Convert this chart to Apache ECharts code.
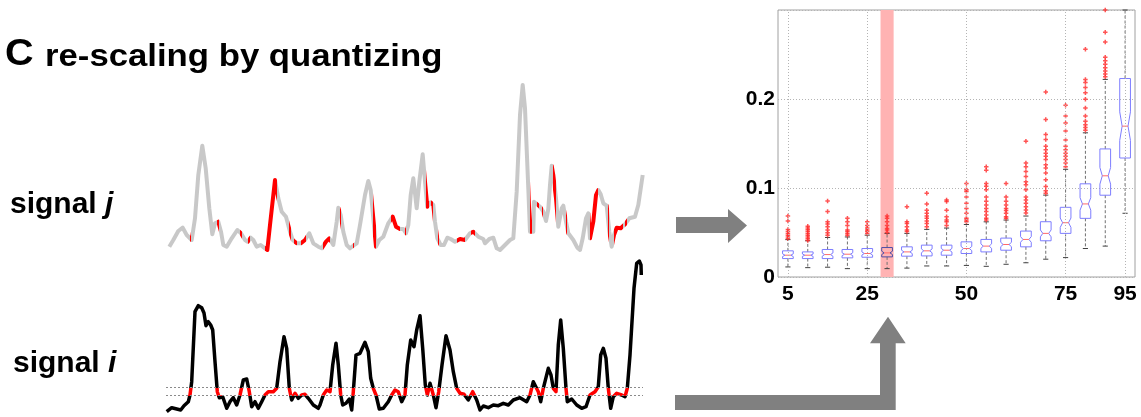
<!DOCTYPE html>
<html><head><meta charset="utf-8">
<script src="https://cdn.jsdelivr.net/npm/echarts@6/dist/echarts.min.js"></script>
<style>html,body{margin:0;padding:0;background:#fff}#c{width:1141px;height:417px}</style>
</head><body><div id="c"></div>
<script>
// ---- signal traces: [time, value] ----
const SIGNAL_J = [[3.3,13.3],[7.3,20],[12.3,29],[16.7,32.3],[20.7,25],[25.7,20],[29,41.7],[32.3,85],[36.3,114.3],[39.7,91.7],[43.3,51.7],[46.3,25.7],[49,36.7],[52.3,38.3],[55,28.3],[57.3,15],[60.7,13.3],[65.7,21.7],[71.3,30],[75,26.7],[79,20],[81.7,18.3],[84.7,22.3],[87.3,20],[90.7,13.3],[94.7,15],[99,11.7],[101.3,10],[104,35],[109,80],[112.3,61.7],[115.7,48.3],[120,43.3],[124,28.3],[126.7,20],[130.7,16.7],[134.7,16.7],[139,20],[143.3,26.7],[147.3,16.7],[152.3,13.3],[155.7,11.7],[160,18.3],[163.3,21.7],[167.3,15],[170.7,38.3],[172.3,52.3],[174.7,45],[177.3,28.3],[180.7,15],[184,11.7],[187.3,14.3],[190.7,16.7],[194,35],[199,65],[202.3,79],[204.7,70],[207.3,41.7],[210,13.3],[213.3,20],[217.3,23.3],[222.3,36.7],[226.7,43.3],[230,33.3],[234,31],[237.3,31],[240,26.7],[242.3,35],[244.7,65],[247.3,81.7],[250.7,51.7],[253.3,78.3],[256.7,105.7],[259,78.3],[261.3,53.3],[264.7,57.7],[267.3,55],[269,38.3],[271.3,21.7],[274.7,15],[278,15],[281.3,22.3],[284.7,21],[289,18.3],[294,21],[299,20],[304,26.7],[307.3,28.3],[312.3,23.3],[317.3,21],[319,16.7],[323.3,21],[327.3,22.3],[330.7,11.7],[334,10],[339,15],[344,20],[347.3,21.7],[350.7,68.3],[354,145],[356.7,175],[359,151.7],[362.3,71.7],[364,28.3],[367.3,28.3],[368,58.3],[370,59],[374,53.3],[377.3,48.3],[380,39],[382.3,51],[384,75],[385.7,94.3],[387.3,85],[390,61.7],[392.3,33.3],[395.7,51.7],[397.3,54.3],[400,38.3],[402.3,26.7],[407.3,20],[411.3,12.3],[414,10],[416.7,21.7],[420,41.7],[422.3,46.7],[424,21.7],[427.3,38.3],[430,65],[432.3,70],[434.7,65.7],[437.3,56.7],[440.7,54.3],[443.3,28.3],[445.7,13.3],[448,25],[450.7,32.3],[454.7,31.7],[459,35.7],[463.3,41.7],[469,43.3],[472.3,55],[476.7,85]];
const SIGNAL_I = [[0.7,3.3],[5.7,7.3],[10.7,6],[14.7,5],[18,9.3],[22.3,13.3],[24,20],[25.7,33.3],[29,103.3],[32.3,109.3],[35.7,107.3],[38,102],[40,89.3],[42.3,93.3],[44.7,90],[46.7,85],[49,53.3],[51.3,23.3],[53.3,17.3],[56.7,18.3],[60.7,6.7],[64,13.3],[67.3,17.3],[70.7,10],[74,20],[77.3,35],[80.7,36],[83.3,23.3],[85.7,8.3],[89,13.3],[92.3,6.7],[95.7,13.3],[99,20],[102.3,23.3],[107.3,23.3],[110.7,26.7],[114,53.3],[118,78.3],[120.7,66.7],[123.3,26.7],[125.7,15],[129,21.7],[132.3,16.7],[135.7,20],[139,20.7],[142.3,16.7],[147.3,10],[152.3,6.7],[154,10],[157.3,20],[160.7,25],[164,23.3],[166.7,50],[170,71.7],[172.3,50],[174.7,20],[176.7,10],[180,11.7],[183.3,16],[185.7,5],[187.3,23.3],[190,60],[194,61.7],[199,72.7],[202.3,63.3],[204.7,36.7],[207.3,26.7],[210,20],[213.3,6],[217.3,6.7],[222.3,13.3],[225.7,20],[229,25],[232.3,23.3],[235.7,13.3],[239,20],[241.3,50],[244.7,75],[248,68.3],[250.7,85],[254,99.3],[256.7,66.7],[259.3,30],[261.3,20],[264,31.7],[267.3,20],[270,7.3],[272.7,23.3],[276,50],[280,79.3],[284,65],[287.3,43.3],[290.7,26.7],[294,21.7],[298,20.7],[302.3,15],[306.7,23.3],[310.7,15],[314,5],[317.3,9],[322.3,7.3],[327.3,10],[332.3,9.3],[337.3,11.7],[342.3,10],[347.3,15],[354,17.3],[360.7,13.3],[364,20],[367.3,33.3],[369,35],[372.3,23.3],[374.7,13.3],[377.3,26.7],[382.3,46.7],[385,40],[387.3,26.7],[390,23.3],[392.3,70],[394.7,95],[397.3,66.7],[400,26.7],[401.3,13.3],[405.7,16],[410.7,10],[415.7,6.7],[420,8.3],[424,20],[429,23.3],[432.3,28.3],[434.7,60],[437.3,66.7],[440,56.7],[442.3,26.7],[444.7,6.7],[447.3,18.3],[450.7,21.7],[455.7,20],[459,18.3],[461.3,26.7],[464,60],[468,126.7],[470.7,151.7],[473.3,154],[475,150],[475.3,140]];
const BAND_LOW = 19.3;
const BAND_HIGH = 27.3;

// ---- box plot (quantized percentiles) ----
const PERCENTILES = ['5','10','15','20','25','30','35','40','45','50','55','60','65','70','75','80','85','95'];
const TICK_LABELS = ['5','25','50','75','95'];
const HIGHLIGHT = '30';
const WHISKER_LOW  = [0.0113,0.0105,0.011,0.0094,0.0094,0.0094,0.010,0.0124,0.0124,0.013,0.012,0.0143,0.016,0.020,0.0218,0.032,0.0347,0.0716];
const Q1           = [0.0207,0.0207,0.0207,0.0215,0.0222,0.0226,0.0234,0.0237,0.0245,0.0264,0.0282,0.0301,0.0339,0.0407,0.049,0.0659,0.0919,0.1337];
const MEDIAN       = [0.0245,0.0245,0.0252,0.0256,0.0264,0.0271,0.0282,0.0294,0.0301,0.032,0.0347,0.0365,0.0422,0.049,0.061,0.0821,0.1137,0.1695];
const Q3           = [0.0294,0.0282,0.0309,0.0309,0.032,0.0331,0.0339,0.0358,0.0358,0.0395,0.0422,0.0437,0.0516,0.0621,0.0783,0.1047,0.1439,0.223];
const WHISKER_HIGH = [0.042,0.0407,0.0444,0.045,0.047,0.049,0.049,0.0535,0.055,0.059,0.062,0.064,0.0685,0.092,0.121,0.162,0.222,0.30];
const OUTLIERS = [
  [0.0685,0.063,0.0535,0.051,0.049,0.047,0.045,0.043],
  [0.057,0.055,0.053,0.051,0.049,0.047,0.045,0.043,0.041],
  [0.0855,0.0735,0.062,0.0595,0.0565,0.0527,0.0497,0.047],
  [0.066,0.062,0.058,0.0527,0.051,0.049,0.047],
  [0.062,0.058,0.055,0.0527,0.051,0.049],
  [0.0685,0.066,0.062,0.058,0.0546,0.0527,0.05],
  [0.079,0.062,0.06,0.0565,0.0527,0.051],
  [0.094,0.082,0.075,0.0716,0.0685,0.066,0.063,0.060,0.0565],
  [0.0866,0.0847,0.075,0.0678,0.064,0.062,0.058],
  [0.105,0.098,0.096,0.09,0.083,0.077,0.0716,0.066,0.064,0.062],
  [0.124,0.12,0.105,0.102,0.098,0.09,0.085,0.081,0.077,0.0735,0.0697,0.066,0.064],
  [0.105,0.09,0.085,0.081,0.077,0.0746,0.0716,0.0678,0.066],
  [0.1525,0.128,0.124,0.1186,0.113,0.107,0.1036,0.098,0.09,0.0866,0.083,0.079,0.0753,0.072],
  [0.208,0.177,0.16,0.1544,0.147,0.143,0.139,0.1356,0.132,0.126,0.1224,0.1168,0.1092,0.1017,0.097,0.094],
  [0.193,0.181,0.173,0.164,0.154,0.147,0.143,0.139,0.1356,0.132,0.128,0.124],
  [0.256,0.222,0.2185,0.213,0.207,0.1996,0.19,0.181,0.175,0.171,0.168,0.165],
  [0.30,0.275,0.264,0.247,0.243,0.239,0.235,0.2316,0.228,0.225],
  []
];
const NOTCH_RATIO = 0.18;

const FONT = "'Liberation Sans', Arial, sans-serif";

// time intervals where signal i lies inside the quantization band
function bandIntervals(sig, lo, hi) {
  const out = [];
  for (let k = 0; k < sig.length - 1; k++) {
    const t0 = sig[k][0], v0 = sig[k][1], t1 = sig[k+1][0], v1 = sig[k+1][1];
    let a, b;
    if (v0 === v1) {
      if (v0 >= lo && v0 <= hi) { a = t0; b = t1; } else continue;
    } else {
      const sLo = (lo - v0) / (v1 - v0), sHi = (hi - v0) / (v1 - v0);
      const s0 = Math.max(0, Math.min(sLo, sHi)), s1 = Math.min(1, Math.max(sLo, sHi));
      if (s0 > s1) continue;
      a = t0 + s0 * (t1 - t0); b = t0 + s1 * (t1 - t0);
    }
    if (out.length && Math.abs(out[out.length-1][1] - a) < 1e-6) out[out.length-1][1] = b;
    else out.push([a, b]);
  }
  return out.filter(iv => iv[1] - iv[0] > 0.3);
}
const redTimes = bandIntervals(SIGNAL_I, BAND_LOW, BAND_HIGH);

const boxData = PERCENTILES.map((p, k) => [k, WHISKER_LOW[k], Q1[k], MEDIAN[k], Q3[k], WHISKER_HIGH[k]]);
const outlierData = [];
OUTLIERS.forEach((list, k) => list.forEach(v => outlierData.push([k, v])));

const chart = echarts.init(document.getElementById('c'), null, {renderer: 'canvas'});
chart.setOption({
  animation: false,
  backgroundColor: '#fff',
  grid: [
    {left: 166, right: 498, top: 80, height: 180},
    {left: 166, right: 498, top: 255, height: 160},
    {left: 778, right: 6, top: 10, bottom: 140, show: true, borderColor: '#a0a0a0', borderWidth: 1, backgroundColor: 'transparent'}
  ],
  xAxis: [
    {gridIndex: 0, type: 'value', min: 0, max: 477, show: false},
    {gridIndex: 1, type: 'value', min: 0, max: 477, show: false},
    {gridIndex: 2, type: 'category', data: PERCENTILES, boundaryGap: true,
     axisLine: {show: false}, axisTick: {show: false}, splitLine: {show: false},
     axisLabel: {interval: (i, v) => TICK_LABELS.includes(v), fontSize: 21, fontWeight: 'bold', fontFamily: FONT, color: '#000', margin: 7}}
  ],
  yAxis: [
    {gridIndex: 0, type: 'value', min: 0, max: 180, show: false},
    {gridIndex: 1, type: 'value', min: 0, max: 160, show: false},
    {gridIndex: 2, type: 'value', min: 0, max: 0.3, interval: 0.1,
     axisLine: {show: false}, axisTick: {show: false},
     splitLine: {show: true, lineStyle: {color: '#b4b4b4', type: [1, 2], width: 1}},
     axisLabel: {formatter: v => v === 0 ? '0' : (v < 0.25 ? v.toFixed(1) : ''), fontSize: 21, fontWeight: 'bold', fontFamily: FONT, color: '#000', margin: 3}}
  ],
  visualMap: [
    {type: 'piecewise', show: false, seriesIndex: 0, dimension: 0,
     pieces: redTimes.map(iv => ({gte: iv[0], lte: iv[1], color: '#ff0000'})),
     outOfRange: {color: '#c8c8c8'}},
    {type: 'piecewise', show: false, seriesIndex: 1, dimension: 1,
     pieces: [{gte: BAND_LOW, lte: BAND_HIGH, color: '#ff0000'}],
     outOfRange: {color: '#000000'}}
  ],
  series: [
    {name: 'signal j', type: 'line', xAxisIndex: 0, yAxisIndex: 0, data: SIGNAL_J,
     showSymbol: false, lineStyle: {width: 4, join: 'round'}, silent: true},
    {name: 'signal i', type: 'line', xAxisIndex: 1, yAxisIndex: 1, data: SIGNAL_I,
     showSymbol: false, lineStyle: {width: 3.5, join: 'round'}, silent: true,
     markLine: {silent: true, symbol: 'none', label: {show: false},
       lineStyle: {color: '#8a8a8a', type: [2, 2], width: 1},
       data: [{yAxis: BAND_LOW}, {yAxis: BAND_HIGH}]}},
    {name: 'selected', type: 'custom', xAxisIndex: 2, yAxisIndex: 2, z: 1,
     data: [[PERCENTILES.indexOf(HIGHLIGHT)]],
     renderItem: (params, api) => {
       const top = api.coord([api.value(0), 0.3]);
       const bot = api.coord([api.value(0), 0]);
       const w = api.size([1, 0])[0] * 0.66;
       return {type: 'rect', shape: {x: top[0] - w / 2, y: top[1], width: w, height: bot[1] - top[1]},
               style: {fill: '#ffb3b3'}};
     },
     markLine: {silent: true, symbol: 'none', label: {show: false},
       lineStyle: {color: '#b4b4b4', type: [1, 2], width: 1},
       data: TICK_LABELS.map(t => ({xAxis: t}))}},
    {name: 'boxes', type: 'custom', xAxisIndex: 2, yAxisIndex: 2, z: 3, data: boxData,
     renderItem: (params, api) => {
       const k = api.value(0);
       const lo = api.value(1), q1 = api.value(2), md = api.value(3), q3 = api.value(4), hi = api.value(5);
       const bw = api.size([1, 0])[0];
       const hw = bw * 0.27, inset = hw * 0.45, cap = bw * 0.13;
       const nh = NOTCH_RATIO * (q3 - q1);
       const c = v => api.coord([k, v]);
       const cx = c(md)[0];
       const yq1 = c(q1)[1], yq3 = c(q3)[1], ymd = c(md)[1];
       const yn1 = c(md - nh)[1], yn2 = c(md + nh)[1];
       const ylo = c(lo)[1], yhi = c(hi)[1];
       const boxColor = PERCENTILES[k] === HIGHLIGHT ? '#4d4da6' : '#7d7dff';
       const wh = {stroke: '#707070', lineWidth: 1, lineDash: [3, 2]};
       return {type: 'group', children: [
         {type: 'line', shape: {x1: cx, y1: yq3, x2: cx, y2: yhi}, style: wh},
         {type: 'line', shape: {x1: cx, y1: yq1, x2: cx, y2: ylo}, style: wh},
         {type: 'line', shape: {x1: cx - cap, y1: yhi, x2: cx + cap, y2: yhi}, style: {stroke: '#404040', lineWidth: 1}},
         {type: 'line', shape: {x1: cx - cap, y1: ylo, x2: cx + cap, y2: ylo}, style: {stroke: '#404040', lineWidth: 1}},
         {type: 'polygon', shape: {points: [
           [cx - hw, yq1], [cx + hw, yq1], [cx + hw, yn1], [cx + hw - inset, ymd], [cx + hw, yn2],
           [cx + hw, yq3], [cx - hw, yq3], [cx - hw, yn2], [cx - hw + inset, ymd], [cx - hw, yn1]]},
          style: {fill: 'rgba(255,255,255,0)', stroke: boxColor, lineWidth: 1}},
         {type: 'line', shape: {x1: cx - hw + inset, y1: ymd, x2: cx + hw - inset, y2: ymd}, style: {stroke: '#ff6a6a', lineWidth: 1}}
       ]};
     }},
    {name: 'outliers', type: 'scatter', xAxisIndex: 2, yAxisIndex: 2, z: 4, data: outlierData,
     symbol: 'path://M2,0h2v2h2v2h-2v2h-2v-2h-2v-2h2z', symbolSize: 4.5,
     itemStyle: {color: '#ff2a2a'}, silent: true}
  ],
  graphic: [
    {type: 'text', x: 5, y: 55, scaleX: 1.1, style: {text: 'C', font: 'bold 36px ' + FONT, fill: '#000', verticalAlign: 'middle'}},
    {type: 'text', x: 45, y: 57, scaleX: 1.12, style: {text: 're-scaling by quantizing', font: 'bold 31px ' + FONT, fill: '#000', verticalAlign: 'middle'}},
    {type: 'text', x: 10, y: 205, style: {text: '{a|signal }{b|j}', verticalAlign: 'middle',
      rich: {a: {font: 'bold 30px ' + FONT, fill: '#000'}, b: {font: 'italic bold 30px ' + FONT, fill: '#000'}}}},
    {type: 'text', x: 13, y: 364, style: {text: '{a|signal }{b|i}', verticalAlign: 'middle',
      rich: {a: {font: 'bold 30px ' + FONT, fill: '#000'}, b: {font: 'italic bold 30px ' + FONT, fill: '#000'}}}},
    {type: 'polygon', shape: {points: [[676,217],[728,217],[728,209],[747,225.5],[728,243],[728,233],[676,233]]}, style: {fill: '#808080'}},
    {type: 'polygon', shape: {points: [[675,395],[880,395],[880,343.3],[870,343.3],[888,316.7],[905.7,343.3],[895.7,343.3],[895.7,410],[675,410]]}, style: {fill: '#808080'}}
  ]
});
</script></body></html>
